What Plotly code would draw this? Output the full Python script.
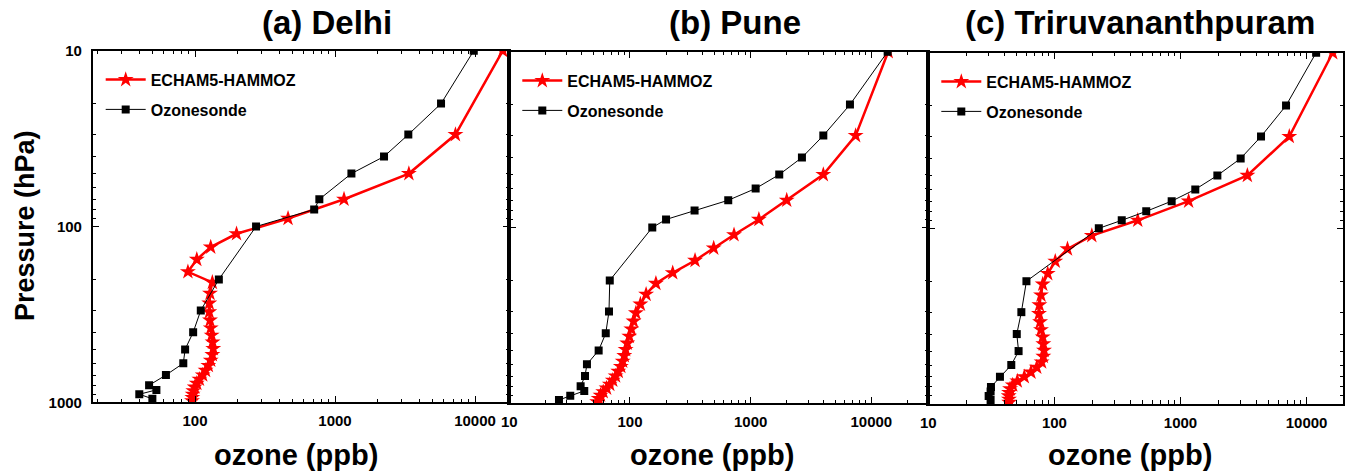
import plotly.graph_objects as go

# ---------------- data ----------------
P_MODEL = [10, 30, 50, 70, 90, 110, 131, 154, 181, 208, 240, 273, 306, 341, 378,
           416, 455, 495, 536, 577, 618, 659, 700, 740, 780, 820, 860, 900, 940, 980]

delhi_model = [15800, 7250, 3370, 1160, 462, 198, 129.5, 103, 89, 133, 128, 126.5, 126.5, 128, 129.5,
               131.5, 133.6, 135, 133, 129.5, 124.5, 119, 113.5, 107.5, 103, 99.5, 97.3, 96.2, 95.7, 95.2]
pune_model = [13800, 7410, 4000, 1990, 1170, 728, 494, 346, 226, 164, 136, 122, 112, 107, 102.6,
              98.7, 95, 92, 89.7, 87, 84, 80, 76, 72, 68, 64, 60, 57, 55, 53.5]
triv_model = [16100, 7290, 3390, 1160, 458, 198, 127, 101.6, 88.5, 80.8, 78.3, 76, 75.5, 77, 78.3,
              80.8, 81.7, 82.7, 81.7, 79.2, 72.4, 65.2, 57.7, 50.8, 46.7, 44.5, 43.7, 43.4, 43.6, 43.8]

delhi_sonde_p = [10, 20, 30, 40, 50, 70, 80, 100, 200, 300, 400, 500, 600, 700, 800, 850, 900, 955]
delhi_sonde = [9800, 5720, 3340, 2240, 1310, 773, 710, 273, 148, 110, 97, 85, 82.5, 62, 47, 53, 40, 49.6]

pune_sonde_p = [10, 20, 30, 40, 50, 60, 70, 80, 90, 100, 200, 300, 400, 500, 600, 700, 800, 850, 905, 957]
pune_sonde = [13650, 6650, 4000, 2660, 1725, 1100, 652, 343, 199, 153, 68, 67, 63, 55, 44, 42.4, 39, 41.8, 32, 25.8]

triv_sonde_p = [10, 20, 30, 40, 50, 60, 70, 80, 90, 100, 200, 300, 400, 500, 600, 700, 800, 850, 900, 950]
triv_sonde = [11900, 6870, 4350, 3000, 1960, 1310, 851, 535, 342, 225, 60, 54.7, 50.3, 52, 45.5, 37, 31.4, 31.2, 30.1, 31.2]

titles = ["(a) Delhi", "(b) Pune", "(c) Triruvananthpuram"]
series_names = ["ECHAM5-HAMMOZ", "Ozonesonde"]
x_tick_vals = [10, 100, 1000, 10000]
x_tick_text = ["10", "100", "1000", "10000"]
y_tick_vals = [10, 100, 1000]
y_tick_text = ["10", "100", "1000"]
minor_vals = [m * d for d in (1, 10, 100, 1000, 10000) for m in range(2, 10)]

# ---------------- layout helpers ----------------
W, H = 1348, 476
FONT = "Liberation Sans, Arial, sans-serif"

panels = [
    dict(model=delhi_model, sp=delhi_sonde_p, s=delhi_sonde,
         px=(92.7, 509.3), py=(50.7, 402.3), xr=(1.2693, 4.245), title_x=327),
    dict(model=pune_model, sp=pune_sonde_p, s=pune_sonde,
         px=(509.3, 928.3), py=(51.7, 403.3), xr=(1.0, 4.472), title_x=735),
    dict(model=triv_model, sp=triv_sonde_p, s=triv_sonde,
         px=(928.3, 1343.3), py=(52.7, 404.0), xr=(1.0, 4.291), title_x=1140),
]
xlabel_centers = [296, 712, 1130]

fig = go.Figure()
layout = dict(width=W, height=H, margin=dict(l=0, r=0, t=0, b=0, autoexpand=False),
              paper_bgcolor="white", plot_bgcolor="white",
              font=dict(family=FONT, color="black"), annotations=[])

for i, p in enumerate(panels, start=1):
    sfx = "" if i == 1 else str(i)
    xa, ya = "x" + sfx, "y" + sfx
    lg = "legend" + sfx
    fig.add_trace(go.Scatter(
        x=p["model"], y=P_MODEL, mode="lines+markers", name=series_names[0],
        line=dict(color="#ff0000", width=2.5),
        marker=dict(symbol="star", size=12, color="#ff0000"),
        xaxis=xa, yaxis=ya, legend=lg, legendgroup="m%d" % i))
    fig.add_trace(go.Scatter(
        x=p["s"], y=p["sp"], mode="lines+markers", name=series_names[1],
        line=dict(color="black", width=1),
        marker=dict(symbol="square", size=8, color="black"),
        xaxis=xa, yaxis=ya, legend=lg, legendgroup="s%d" % i))

    dx = [p["px"][0] / W, p["px"][1] / W]
    dy = [1 - p["py"][1] / H, 1 - p["py"][0] / H]
    common = dict(
        ticks="inside", ticklen=7, tickwidth=1.2, tickcolor="black",
        minor=dict(tickmode="array", tickvals=minor_vals, ticks="inside", ticklen=4,
                   tickwidth=1, tickcolor="black", showgrid=False),
        showline=True, linecolor="black", linewidth=1.5, mirror="ticks",
        showgrid=False, zeroline=False,
        tickfont=dict(size=15, family=FONT, weight="bold", color="black"))
    layout["xaxis" + sfx] = dict(
        type="log", range=list(p["xr"]), domain=dx, anchor=ya,
        tickmode="array", tickvals=x_tick_vals, ticktext=x_tick_text,
        ticklabelstandoff=4, **common)
    layout["yaxis" + sfx] = dict(
        type="log", range=[3, 1], domain=dy, anchor=xa,
        tickmode="array", tickvals=y_tick_vals, ticktext=y_tick_text,
        showticklabels=(i == 1), ticklabelstandoff=6, **common)
    layout[lg] = dict(
        x=(p["px"][0] + 8) / W, y=1 - (p["py"][0] + 12) / H,
        xanchor="left", yanchor="top", bgcolor="rgba(0,0,0,0)",
        font=dict(size=16, family=FONT, weight="bold", color="black"),
        tracegroupgap=6, itemwidth=40)
    layout["annotations"].append(dict(
        text=titles[i - 1], x=p["title_x"] / W, y=1 - 22 / H, xref="paper", yref="paper",
        showarrow=False, xanchor="center", yanchor="middle",
        font=dict(size=33, family=FONT, weight="bold", color="black")))
    layout["annotations"].append(dict(
        text="ozone (ppb)", x=xlabel_centers[i - 1] / W, y=1 - 455 / H, xref="paper", yref="paper",
        showarrow=False, xanchor="center", yanchor="middle",
        font=dict(size=29, family=FONT, weight="bold", color="black")))

layout["annotations"].append(dict(
    text="Pressure (hPa)", x=25 / W, y=1 - 226 / H, xref="paper", yref="paper",
    showarrow=False, xanchor="center", yanchor="middle", textangle=-90,
    font=dict(size=27, family=FONT, weight="bold", color="black")))

fig.update_layout(**layout)
fig.write_html("out.html", config={"displayModeBar": False},
               post_script="document.body.style.margin='0';")
